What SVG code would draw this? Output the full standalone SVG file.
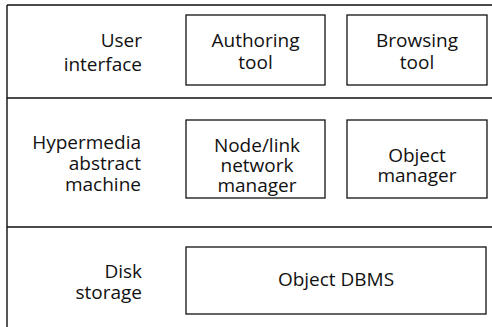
<svg xmlns="http://www.w3.org/2000/svg" width="492" height="327" viewBox="0 0 492 327">
<style>
.ln{stroke:#111;stroke-width:1.4;fill:none}
.bx{stroke:#111;stroke-width:1.3;fill:#fff}
text{font-family:"Open Sans","Noto Sans",sans-serif;font-size:19px;fill:#111}
.r{text-anchor:end}
.c{text-anchor:middle}
</style>
<rect width="492" height="327" fill="#fff"/>
<g id="frame">
<path class="ln" d="M7 5H492M7 5V327M7 98H492M7 227H492"/>
</g>
<g id="layer-ui">
<text class="r" x="142" y="47">User</text>
<text class="r" x="142" y="71">interface</text>
</g>
<g id="layer-ham">
<text class="r" x="141" y="149">Hypermedia</text>
<text class="r" x="141" y="170">abstract</text>
<text class="r" x="141" y="191">machine</text>
</g>
<g id="layer-disk">
<text class="r" x="142" y="278">Disk</text>
<text class="r" x="142" y="299">storage</text>
</g>
<g id="authoring">
<rect class="bx" x="186" y="15" width="139" height="70"/>
<text class="c" x="255.5" y="47">Authoring</text>
<text class="c" x="255.5" y="69">tool</text>
</g>
<g id="browsing">
<rect class="bx" x="347" y="15" width="140" height="70"/>
<text class="c" x="417" y="47">Browsing</text>
<text class="c" x="417" y="69">tool</text>
</g>
<g id="nodelink">
<rect class="bx" x="186" y="120" width="139" height="78"/>
<text class="c" x="257" y="152">Node/link</text>
<text class="c" x="257" y="172">network</text>
<text class="c" x="257" y="192">manager</text>
</g>
<g id="objmgr">
<rect class="bx" x="347" y="120" width="140" height="78"/>
<text class="c" x="417" y="162">Object</text>
<text class="c" x="417" y="182">manager</text>
</g>
<g id="dbms">
<rect class="bx" x="186" y="247" width="300" height="67"/>
<text class="c" x="336" y="286">Object DBMS</text>
</g>
<g id="connectors"></g>
</svg>
